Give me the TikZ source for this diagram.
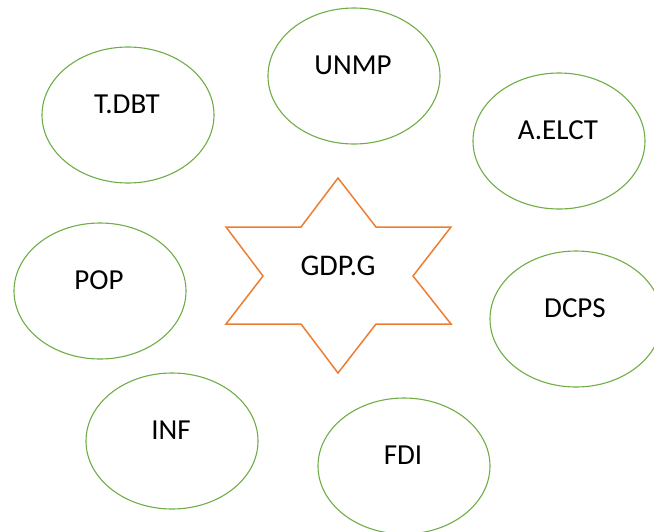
\documentclass[tikz,border=0pt]{standalone}
\usepackage{fontspec}
\setmainfont{Carlito}
\usepackage{tikz}
\usetikzlibrary{shapes.geometric}
\definecolor{leaf}{HTML}{70AD47}
\definecolor{amber}{HTML}{ED7D31}
\tikzset{
  bubble/.style={ellipse, draw=leaf, line width=1.1pt, minimum width=172pt, minimum height=136pt, inner sep=0pt},
  starline/.style={draw=amber, line width=1.5pt, line join=miter},
  lbl/.style={inner sep=0pt, font=\fontsize{29}{34}\selectfont}
}
\begin{document}
\begin{tikzpicture}[x=1pt,y=-1pt]
  \useasboundingbox (0,0) rectangle (654,531);
  % six-pointed star in the middle
  \coordinate (core) at (338,276);
  \draw[starline] (338,178) -- (376,227) -- (451,227) -- (413,276) -- (451,324) -- (376,324)
    -- (338,373) -- (301,324) -- (226,324) -- (263,276) -- (226,227) -- (301,227) -- cycle;
  \node[lbl, font=\fontsize{30}{35}\selectfont] (gdp) at ([yshift=10pt]core) {GDP.G};
  % indicator ellipses around it
  \foreach \n/\x/\y/\t in {tdbt/128/115/T.DBT, unmp/354/76/UNMP, aelct/559/141/A.ELCT,
                          pop/100/291/POP, dcps/576/319/DCPS, inf/172/441/INF, fdi/404/466/FDI}{
    \node[bubble] (\n) at (\x,\y) {};
    \node[lbl] (\n-t) at ([xshift=-1pt,yshift=10.5pt]\n.center) {\t};
  }
\end{tikzpicture}
\end{document}
